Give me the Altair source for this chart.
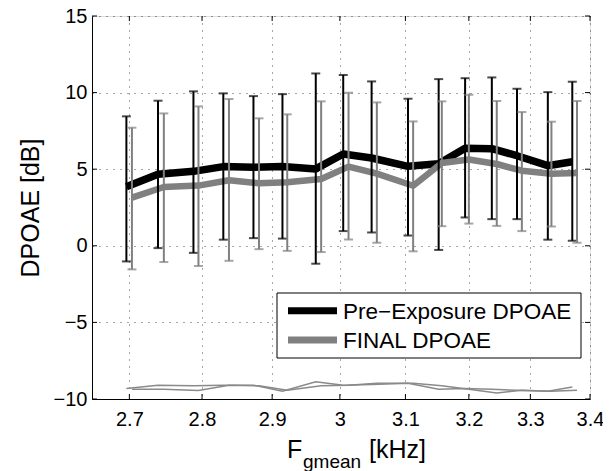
import altair as alt
import pandas as pd

# ---- data ----
freq_pre = [2.696, 2.739, 2.788, 2.830, 2.873, 2.915, 2.964, 3.005, 3.048, 3.104, 3.152, 3.194, 3.237, 3.278, 3.329, 3.370]
freq_final = [2.7035, 2.747, 2.795, 2.838, 2.881, 2.922, 2.972, 3.013, 3.056, 3.112, 3.157, 3.200, 3.245, 3.286, 3.335, 3.378]

pre_mean = [3.85, 4.67, 4.86, 5.17, 5.12, 5.17, 5.02, 5.99, 5.73, 5.19, 5.35, 6.37, 6.34, 5.88, 5.23, 5.49]
pre_hi = [8.45, 9.47, 10.08, 9.95, 9.77, 9.90, 11.25, 11.15, 10.73, 9.60, 10.88, 10.94, 10.99, 10.25, 10.03, 10.71]
pre_lo = [-1.02, -0.15, -0.46, 0.40, 0.50, 0.47, -1.17, 0.96, 0.87, 0.67, -0.27, 1.85, 1.74, 1.74, 0.40, 0.33]

final_mean = [3.15, 3.84, 3.93, 4.28, 4.08, 4.15, 4.36, 5.17, 4.71, 3.92, 5.40, 5.63, 5.34, 4.90, 4.71, 4.76]
final_hi = [7.71, 8.64, 9.10, 9.58, 8.32, 8.58, 9.43, 9.99, 9.36, 8.12, 9.43, 9.86, 9.45, 8.73, 8.10, 9.45]
final_lo = [-1.54, -1.06, -1.32, -0.98, -0.22, -0.33, -0.41, 0.41, 0.20, -0.36, 1.28, 1.45, 1.30, 0.96, 1.26, 0.20]

noise_pre = [-9.32, -9.10, -9.14, -9.10, -9.10, -9.49, -8.88, -9.10, -9.06, -8.97, -9.36, -9.32, -9.36, -9.43, -9.49, -9.21]
noise_final = [-9.36, -9.36, -9.45, -9.10, -9.14, -9.43, -9.14, -9.10, -8.97, -8.97, -9.14, -9.36, -9.60, -9.43, -9.49, -9.43]

series_names = ["Pre\u2212Exposure DPOAE", "FINAL DPOAE"]
series_colors = ["#000000", "#808080"]
x_ticks = [2.7, 2.8, 2.9, 3.0, 3.1, 3.2, 3.3, 3.4]
y_ticks = [-10, -5, 0, 5, 10, 15]

FONT = "Liberation Sans"
W, H = 498, 383
TK = 5  # inward tick length

pre = pd.DataFrame({"f": freq_pre, "m": pre_mean, "hi": pre_hi, "lo": pre_lo,
                    "nf": noise_pre, "series": series_names[0]})
fin = pd.DataFrame({"f": freq_final, "m": final_mean, "hi": final_hi, "lo": final_lo,
                    "nf": noise_final, "series": series_names[1]})
xt_df = pd.DataFrame({"v": x_ticks})
yt_df = pd.DataFrame({"v": y_ticks})

xs = alt.Scale(type="log", domain=[2.65, 3.4], nice=False, zero=False)
ys = alt.Scale(domain=[-10, 15], nice=False, zero=False)

xaxis = alt.Axis(values=x_ticks, format=".1~f", title=None, grid=True, tickSize=0,
                 labelPadding=10, labelFontSize=20, labelFont=FONT, labelColor="black",
                 domainColor="black", gridColor="#222", gridDash=[1, 6], gridOpacity=0.8,
                 labelFlush=False)
yaxis = alt.Axis(values=y_ticks, title="DPOAE [dB]", grid=True, tickSize=0,
                 labelPadding=5, labelFontSize=20, labelFont=FONT, labelColor="black",
                 titleFontSize=25, titleFont=FONT, titleFontWeight="normal", titleColor="black",
                 titlePadding=10, domainColor="black", gridColor="#222", gridDash=[1, 6],
                 gridOpacity=0.8)


def noise(df):
    return alt.Chart(df).mark_line(strokeWidth=1.5, color="#8a8a8a").encode(
        x=alt.X("f:Q", scale=xs, axis=xaxis), y=alt.Y("nf:Q", scale=ys, axis=yaxis))


def mline(df, col, w):
    return alt.Chart(df).mark_line(strokeWidth=w, strokeJoin="round", color=col).encode(
        x=alt.X("f:Q", scale=xs, axis=xaxis), y=alt.Y("m:Q", scale=ys, axis=yaxis))


def bars(df, col):
    r = alt.Chart(df).mark_rule(strokeWidth=2, color=col).encode(
        x=alt.X("f:Q", scale=xs), y=alt.Y("lo:Q", scale=ys), y2="hi:Q")
    t1 = alt.Chart(df).mark_tick(orient="horizontal", size=9, thickness=2, color=col).encode(
        x=alt.X("f:Q", scale=xs), y=alt.Y("hi:Q", scale=ys))
    t2 = alt.Chart(df).mark_tick(orient="horizontal", size=9, thickness=2, color=col).encode(
        x=alt.X("f:Q", scale=xs), y=alt.Y("lo:Q", scale=ys))
    return r + t1 + t2


def label(txt, x, y, size):
    return alt.Chart(pd.DataFrame({"t": [txt]})).mark_text(
        align="left", baseline="alphabetic", fontSize=size, font=FONT, color="black").encode(
        text="t:N", x=alt.value(x), y=alt.value(y))


# inward ticks on all four sides (MATLAB box style)
ticks_b = alt.Chart(xt_df).mark_rule(color="black", strokeWidth=1).encode(
    x=alt.X("v:Q", scale=xs), y=alt.value(H), y2=alt.value(H - TK))
ticks_t = alt.Chart(xt_df).mark_rule(color="black", strokeWidth=1).encode(
    x=alt.X("v:Q", scale=xs), y=alt.value(0), y2=alt.value(TK))
ticks_l = alt.Chart(yt_df).mark_rule(color="black", strokeWidth=1).encode(
    y=alt.Y("v:Q", scale=ys), x=alt.value(0), x2=alt.value(TK))
ticks_r = alt.Chart(yt_df).mark_rule(color="black", strokeWidth=1).encode(
    y=alt.Y("v:Q", scale=ys), x=alt.value(W - TK), x2=alt.value(W))

# x-axis title with subscript
xt = label("F", 195, 442, 25) + label("gmean", 211, 452, 19) + label("[kHz]", 277, 442, 25)

# legend box
one = pd.DataFrame({"k": [0]})
leg_box = alt.Chart(one).mark_rect(fill="white", stroke="black", strokeWidth=1).encode(
    x=alt.value(185), x2=alt.value(489), y=alt.value(277), y2=alt.value(342))
leg_sym1 = alt.Chart(one).mark_rule(color=series_colors[0], strokeWidth=7).encode(
    x=alt.value(196), x2=alt.value(245), y=alt.value(294.7))
leg_sym2 = alt.Chart(one).mark_rule(color=series_colors[1], strokeWidth=7).encode(
    x=alt.value(196), x2=alt.value(245), y=alt.value(324))
leg_txt = label(series_names[0], 251, 302.5, 22.5) + label(series_names[1], 251, 332.3, 22.5)

chart = alt.layer(
    noise(pre), noise(fin),
    mline(pre, series_colors[0], 7.5), mline(fin, series_colors[1], 6.5),
    bars(pre, series_colors[0]), bars(fin, series_colors[1]),
    ticks_b, ticks_t, ticks_l, ticks_r,
    leg_box, leg_sym1, leg_sym2, leg_txt,
    xt,
).properties(
    width=W, height=H,
    autosize=alt.AutoSizeParams(type="none"),
    padding={"left": 84, "top": 8, "right": 13, "bottom": 72},
).configure_view(stroke="black", strokeWidth=1).configure(background="white")

chart.save("out.html", embed_options={"renderer": "svg", "actions": False})
